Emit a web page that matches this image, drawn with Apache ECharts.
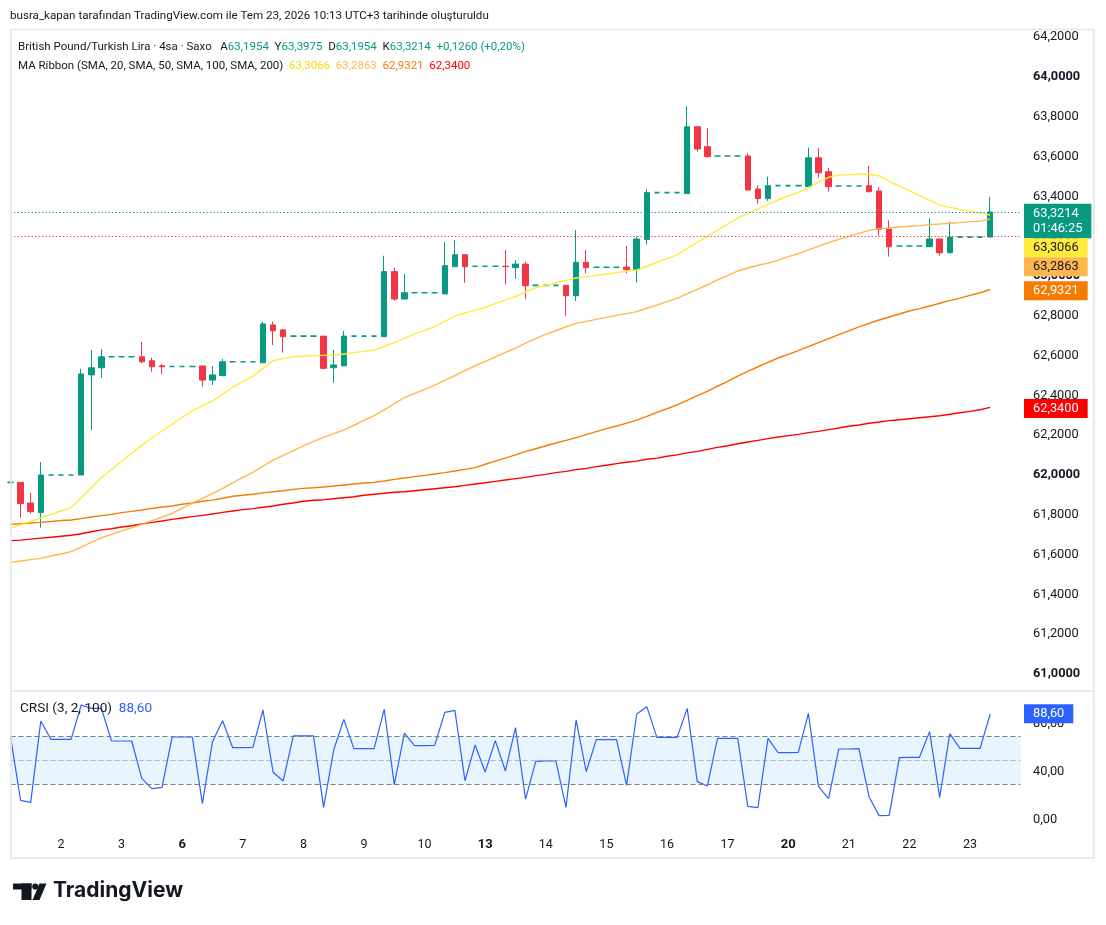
<!DOCTYPE html>
<html><head><meta charset="utf-8">
<script src="https://cdn.jsdelivr.net/npm/echarts@6/dist/echarts.min.js"></script>
<style>html,body{margin:0;padding:0;background:#fff;}#c{width:1106px;height:925px;}</style>
</head><body><div id="c"></div>
<script>
// ---------- data (4h bars, GBP/TRY, Jul 1 04:00 -> Jul 23 08:00, UTC+3) ----------
const tradingDays = ['1','2','3','6','7','8','9','10','13','14','15','16','17','20','21','22','23'];
const mondays = ['6','13','20'];
const barsFirstDay = 5;
const barsPerDay = 6;

const open = [61.963,61.963,61.859,61.811,62.000,62.000,62.000,62.000,62.503,62.539,
62.594,62.594,62.594,62.594,62.574,62.549,62.545,62.545,62.545,62.548,
62.477,62.499,62.569,62.569,62.569,62.564,62.754,62.729,62.698,62.698,
62.698,62.698,62.539,62.549,62.698,62.698,62.698,62.695,63.022,62.884,
62.916,62.916,62.916,62.910,63.047,63.107,63.049,63.049,63.049,63.049,
63.042,63.060,62.953,62.953,62.953,62.953,62.901,63.069,63.044,63.044,
63.044,63.045,63.032,63.184,63.419,63.419,63.419,63.414,63.750,63.650,
63.603,63.603,63.603,63.603,63.437,63.389,63.454,63.454,63.454,63.449,
63.594,63.524,63.452,63.452,63.452,63.454,63.427,63.236,63.151,63.151,
63.151,63.147,63.186,63.117,63.1954,63.1954,63.1954,63.1954];
const close = [61.963,61.856,61.816,62.000,62.000,62.000,62.000,62.508,62.539,62.594,
62.594,62.594,62.594,62.569,62.544,62.544,62.545,62.545,62.545,62.477,
62.503,62.569,62.569,62.569,62.569,62.759,62.725,62.695,62.698,62.698,
62.698,62.536,62.553,62.698,62.698,62.698,62.698,63.022,62.884,62.916,
62.916,62.916,62.916,63.052,63.107,63.047,63.049,63.049,63.049,63.047,
63.060,62.951,62.953,62.953,62.953,62.901,63.069,63.042,63.044,63.044,
63.044,63.032,63.186,63.419,63.419,63.419,63.419,63.750,63.638,63.600,
63.603,63.603,63.603,63.432,63.389,63.454,63.454,63.454,63.454,63.594,
63.519,63.449,63.452,63.452,63.452,63.424,63.235,63.147,63.151,63.151,
63.151,63.186,63.117,63.1954,63.1954,63.1954,63.1954,63.3214];
const low = [61.963,61.785,61.806,61.735,62.000,62.000,62.000,62.000,62.226,62.489,
62.594,62.594,62.594,62.561,62.519,62.506,62.545,62.545,62.545,62.444,
62.452,62.499,62.569,62.569,62.569,62.564,62.653,62.615,62.698,62.698,
62.698,62.531,62.464,62.549,62.698,62.698,62.698,62.695,62.876,62.884,
62.916,62.916,62.916,62.910,63.047,62.966,63.049,63.049,63.049,62.958,
62.985,62.884,62.953,62.953,62.953,62.800,62.874,63.014,63.044,63.044,
63.044,63.014,62.968,63.159,63.419,63.419,63.419,63.414,63.625,63.594,
63.603,63.603,63.603,63.432,63.362,63.377,63.454,63.454,63.454,63.449,
63.494,63.424,63.452,63.452,63.452,63.419,63.203,63.097,63.151,63.151,
63.151,63.147,63.102,63.117,63.1954,63.1954,63.1954,63.1954];
const high = [61.963,61.963,61.910,62.065,62.000,62.000,62.000,62.533,62.628,62.633,
62.594,62.594,62.594,62.668,62.589,62.559,62.545,62.545,62.545,62.548,
62.548,62.583,62.569,62.569,62.569,62.770,62.770,62.734,62.698,62.698,
62.698,62.698,62.628,62.724,62.698,62.698,62.698,63.102,63.042,63.010,
62.916,62.916,62.916,63.171,63.181,63.107,63.049,63.049,63.049,63.131,
63.080,63.072,62.953,62.953,62.953,62.953,63.231,63.131,63.044,63.044,
63.044,63.151,63.198,63.437,63.419,63.419,63.419,63.854,63.750,63.742,
63.603,63.603,63.603,63.617,63.457,63.499,63.454,63.454,63.454,63.645,
63.642,63.544,63.452,63.452,63.452,63.554,63.447,63.280,63.151,63.151,
63.151,63.290,63.186,63.273,63.1954,63.1954,63.1954,63.3975];

const sma20 = [61.732,61.749,61.767,61.784,61.802,61.819,61.836,61.886,61.936,61.987,
62.028,62.069,62.109,62.149,62.186,62.221,62.256,62.290,62.322,62.348,
62.372,62.405,62.442,62.471,62.497,62.536,62.575,62.585,62.595,62.598,
62.600,62.601,62.601,62.608,62.615,62.621,62.628,62.647,62.665,62.687,
62.709,62.727,62.745,62.772,62.799,62.814,62.827,62.843,62.861,62.879,
62.896,62.920,62.940,62.953,62.966,62.978,62.990,62.997,63.003,63.010,
63.017,63.023,63.030,63.049,63.069,63.087,63.106,63.139,63.169,63.199,
63.229,63.261,63.291,63.315,63.337,63.360,63.382,63.402,63.420,63.444,
63.472,63.496,63.508,63.509,63.511,63.511,63.504,63.476,63.452,63.429,
63.404,63.380,63.357,63.345,63.335,63.325,63.317,63.3066];
const sma50 = [61.561,61.568,61.575,61.581,61.593,61.603,61.615,61.638,61.662,61.685,
61.702,61.719,61.735,61.752,61.771,61.789,61.807,61.834,61.859,61.883,
61.906,61.933,61.961,61.988,62.013,62.044,62.075,62.099,62.122,62.146,
62.169,62.189,62.208,62.226,62.250,62.275,62.298,62.327,62.358,62.389,
62.410,62.430,62.452,62.476,62.499,62.524,62.549,62.571,62.593,62.616,
62.638,62.663,62.685,62.707,62.725,62.745,62.762,62.772,62.782,62.792,
62.802,62.811,62.821,62.838,62.854,62.871,62.888,62.911,62.933,62.956,
62.980,63.002,63.025,63.040,63.054,63.065,63.080,63.097,63.112,63.131,
63.149,63.168,63.184,63.199,63.214,63.229,63.238,63.241,63.246,63.250,
63.253,63.258,63.261,63.265,63.268,63.273,63.276,63.2863];
const sma100 = [61.752,61.755,61.759,61.762,61.766,61.771,61.774,61.781,61.789,61.796,
61.802,61.811,61.817,61.824,61.832,61.839,61.844,61.853,61.859,61.868,
61.874,61.883,61.893,61.898,61.903,61.910,61.916,61.921,61.928,61.933,
61.936,61.940,61.945,61.950,61.955,61.960,61.963,61.970,61.978,61.985,
61.992,61.998,62.005,62.012,62.020,62.028,62.037,62.054,62.070,62.085,
62.101,62.119,62.132,62.147,62.161,62.174,62.188,62.203,62.218,62.233,
62.246,62.261,62.276,62.295,62.315,62.333,62.352,62.375,62.399,62.420,
62.446,62.471,62.497,62.521,62.544,62.566,62.588,62.606,62.625,62.645,
62.665,62.685,62.705,62.724,62.744,62.762,62.779,62.794,62.809,62.824,
62.836,62.849,62.863,62.876,62.889,62.903,62.916,62.9321];
const sma200 = [61.670,61.673,61.678,61.683,61.687,61.692,61.697,61.705,61.715,61.724,
61.730,61.739,61.745,61.754,61.762,61.769,61.777,61.784,61.791,61.797,
61.804,61.812,61.819,61.826,61.831,61.838,61.844,61.853,61.859,61.868,
61.873,61.876,61.881,61.886,61.891,61.898,61.903,61.908,61.913,61.916,
61.921,61.926,61.931,61.936,61.941,61.948,61.955,61.961,61.968,61.975,
61.982,61.988,61.997,62.003,62.012,62.018,62.027,62.033,62.042,62.049,
62.057,62.064,62.070,62.079,62.085,62.094,62.101,62.111,62.119,62.129,
62.139,62.147,62.157,62.166,62.174,62.183,62.191,62.198,62.204,62.213,
62.219,62.228,62.236,62.245,62.251,62.260,62.266,62.273,62.278,62.283,
62.288,62.293,62.298,62.305,62.313,62.320,62.328,62.340];

const crsi = [69.7,16.6,15.0,82.7,67.5,67.5,67.5,96.1,93.3,93.3,
66.1,66.1,66.1,35.0,26.4,27.5,69.4,69.4,69.4,13.9,
65.5,83.0,60.5,60.5,60.8,91.9,40.0,32.8,70.3,70.3,
70.3,10.8,58.6,84.1,59.7,59.7,59.7,92.5,29.7,72.7,
62.2,62.2,62.5,90.0,91.6,32.8,62.8,40.3,66.4,41.1,
77.2,17.7,49.1,49.4,49.4,10.8,83.6,40.5,67.2,67.2,
67.2,29.1,88.6,94.7,69.1,69.1,69.1,93.3,32.2,28.6,
68.3,68.3,68.3,11.6,10.5,68.3,56.4,56.4,56.6,89.1,
28.0,18.0,59.4,59.4,59.7,19.7,3.9,4.1,52.2,52.5,
52.5,73.9,19.1,72.2,60.0,60.0,60.0,88.60];

const priceTicks = [61,61.2,61.4,61.6,61.8,62,62.2,62.4,62.6,62.8,63,63.2,63.4,63.6,63.8,64,64.2];
const crsiTicks = [0,40,80];
const crsiBand = [30,50,70];
const countdown = '01:46:25';
const headerText = 'busra_kapan tarafından TradingView.com ile Tem 23, 2026 10:13 UTC+3 tarihinde oluşturuldu';
const symbolText = 'British Pound/Turkish Lira · 4sa · Saxo';
const ribbonText = 'MA Ribbon (SMA, 20, SMA, 50, SMA, 100, SMA, 200)';
const crsiTitle = 'CRSI (3, 2, 100)';

// ---------- styling ----------
const GREEN = '#089981', RED = '#F23645', TXT = '#131722';
const C20 = '#FFEB3B', C50 = '#FFB74D', C100 = '#F57C00', C200 = '#FF0000', CBLUE = '#2962FF';
const FONT = 'Roboto, "Noto Sans", sans-serif';
const AXF = 12.8;
const LEGF = '11.5px ' + FONT;
const N = open.length;
const fmt = (v, d) => v.toFixed(d).replace('.', ',');

const dayStart = tradingDays.map((d, k) => k === 0 ? -1 : barsFirstDay + (k - 1) * barsPerDay);
const labelIdx = dayStart.filter(v => v >= 0);
const labelOf = {};
tradingDays.forEach((d, k) => { labelOf[dayStart[k]] = d; });

const candleData = open.map((o, i) => {
  const flat = o === close[i] && high[i] === low[i];
  const item = { value: [i, o, close[i], low[i], high[i]] };
  if (flat) item.itemStyle = { color: GREEN, color0: GREEN, borderColor: GREEN, borderColor0: GREEN, borderColorDoji: GREEN, borderWidth: 1.6 };
  return item;
});
const xy = arr => arr.map((v, i) => [i, v]);
const maSeries = (arr, color) => ({
  type: 'line', xAxisIndex: 0, yAxisIndex: 0, data: xy(arr), symbol: 'none', showSymbol: false,
  lineStyle: { color, width: 1.4 }, clip: true, silent: true, z: 4, animation: false
});

const chart = echarts.init(document.getElementById('c'), null, { renderer: 'canvas' });
const option = {
  backgroundColor: '#ffffff',
  animation: false,
  grid: [
    { left: 10.5, top: 30, width: 1010, height: 660 },
    { left: 10.5, top: 692, width: 1010, height: 138 }
  ],
  xAxis: [
    { type: 'value', gridIndex: 0, min: 0, max: 100, show: false },
    { type: 'value', gridIndex: 1, min: 0, max: 100,
      axisLine: { show: false }, axisTick: { show: false }, splitLine: { show: false },
      axisLabel: { customValues: labelIdx, margin: 8, color: TXT, fontSize: 12.5, fontFamily: FONT,
        formatter: v => { const t = labelOf[v]; return mondays.includes(t) ? '{b|' + t + '}' : t; },
        rich: { b: { fontWeight: 'bold', fontSize: 13, fontFamily: FONT, color: TXT } } } }
  ],
  yAxis: [
    { type: 'value', gridIndex: 0, position: 'right', min: 60.9196, max: 64.2362, scale: true,
      axisLine: { show: false }, axisTick: { show: false }, splitLine: { show: false },
      axisLabel: { customValues: priceTicks, margin: 12.5, color: TXT, fontSize: AXF, fontFamily: FONT,
        formatter: v => Math.abs(v - Math.round(v)) < 1e-9 ? '{b|' + fmt(v, 4) + '}' : fmt(v, 4),
        rich: { b: { fontWeight: 'bold', fontSize: AXF, fontFamily: FONT, color: TXT } } } },
    { type: 'value', gridIndex: 1, position: 'right', min: -8.08, max: 106.92,
      axisLine: { show: false }, axisTick: { show: false }, splitLine: { show: false },
      axisLabel: { customValues: crsiTicks, margin: 12.5, color: TXT, fontSize: AXF, fontFamily: FONT,
        formatter: v => fmt(v, 2) } }
  ],
  series: [
    { type: 'candlestick', xAxisIndex: 0, yAxisIndex: 0, data: candleData,
      encode: { x: 0, y: [1, 2, 3, 4] }, barWidth: 6, clip: true, silent: true, z: 3,
      itemStyle: { color: GREEN, color0: RED, borderColor: GREEN, borderColor0: RED, borderColorDoji: GREEN, borderWidth: 1 },
      markLine: { silent: true, symbol: 'none', label: { show: false }, animation: false,
        data: [
          { yAxis: close[N - 1], lineStyle: { color: GREEN, type: [1.3, 2.2], width: 1.2 } },
          { yAxis: close[N - 2], lineStyle: { color: RED, type: [1.3, 2.2], width: 1.2 } }
        ] } },
    maSeries(sma200, C200),
    maSeries(sma100, C100),
    maSeries(sma50, C50),
    maSeries(sma20, C20),
    { type: 'line', xAxisIndex: 1, yAxisIndex: 1, data: xy(crsi), symbol: 'none', showSymbol: false,
      lineStyle: { color: CBLUE, width: 1.2 }, clip: true, silent: true, z: 4,
      markArea: { silent: true, itemStyle: { color: 'rgba(33,150,243,0.1)' }, data: [[{ yAxis: crsiBand[0] }, { yAxis: crsiBand[2] }]] },
      markLine: { silent: true, symbol: 'none', label: { show: false },
        data: [
          { yAxis: crsiBand[2], lineStyle: { color: '#787B86', type: [5, 3], width: 1 } },
          { yAxis: crsiBand[1], lineStyle: { color: 'rgba(120,123,134,0.5)', type: [5, 3], width: 1 } },
          { yAxis: crsiBand[0], lineStyle: { color: '#787B86', type: [5, 3], width: 1 } }
        ] } }
  ]
};
chart.setOption(option);

// ---------- overlay graphics ----------
const g = [];
// frame + pane separator
g.push({ type: 'rect', shape: { x: 11, y: 29.5, width: 1083, height: 828.5 }, style: { fill: 'none', stroke: '#e3e5ea', lineWidth: 1.5 }, silent: true, z: 10 });
g.push({ type: 'line', shape: { x1: 11, y1: 691, x2: 1094, y2: 691 }, style: { stroke: '#e3e5ea', lineWidth: 1.5 }, silent: true, z: 10 });

// header
g.push({ type: 'text', x: 10, y: 16.5, style: { text: headerText, fill: TXT, font: '11.6px ' + FONT, textVerticalAlign: 'middle' }, z: 10 });

// legend
const last = N - 1;
const chg = close[last] - close[last - 1];
const pct = chg / close[last - 1] * 100;
const sgn = v => (v >= 0 ? '+' : '-');
const richBase = (f, font) => ({ fill: f, font: font || LEGF });
g.push({ type: 'text', x: 18, y: 47, z: 10, style: {
  text: symbolText + '   A{g|' + fmt(open[last], 4) + '}  Y{g|' + fmt(high[last], 4) + '}  D{g|' + fmt(low[last], 4) + '}  K{g|' + fmt(close[last], 4) + '}  {g|' + sgn(chg) + fmt(Math.abs(chg), 4) + ' (' + sgn(pct) + fmt(Math.abs(pct), 2) + '%)}',
  fill: TXT, font: LEGF, textVerticalAlign: 'middle',
  rich: { g: richBase(GREEN) } } });
g.push({ type: 'text', x: 18, y: 66, z: 10, style: {
  text: ribbonText + '  {a|' + fmt(sma20[last], 4) + '}  {b|' + fmt(sma50[last], 4) + '}  {c|' + fmt(sma100[last], 4) + '}  {d|' + fmt(sma200[last], 4) + '}',
  fill: TXT, font: LEGF, textVerticalAlign: 'middle',
  rich: { a: richBase('#F5D90A'), b: richBase(C50), c: richBase(C100), d: richBase(C200) } } });

// price scale tags (stacked so they never overlap)
const LH = 15.5, PT = 2, PB = 1.5;
const tags = [
  { v: close[last], bg: GREEN, fg: '#fff', text: fmt(close[last], 4) + '\n' + countdown, axis: 0 },
  { v: sma20[last], bg: C20, fg: TXT, text: fmt(sma20[last], 4), axis: 0 },
  { v: sma50[last], bg: C50, fg: TXT, text: fmt(sma50[last], 4), axis: 0 },
  { v: sma100[last], bg: C100, fg: '#fff', text: fmt(sma100[last], 4), axis: 0 },
  { v: sma200[last], bg: C200, fg: '#fff', text: fmt(sma200[last], 4), axis: 0 }
].map(t => Object.assign(t, { py: chart.convertToPixel({ yAxisIndex: t.axis }, t.v) }));
tags.sort((a, b) => a.py - b.py);
let prevBottom = -1e9;
const tagX = chart.convertToPixel({ xAxisIndex: 0 }, 100) + 3.5;
tags.forEach(t => {
  const lines = t.text.split('\n').length;
  const h = lines * LH + PT + PB;
  const top = Math.max(t.py - (PT + LH / 2) + 1.5, prevBottom);
  prevBottom = top + h;
  g.push({ type: 'text', x: tagX, y: top, z: 20, style: {
    text: t.text, fill: t.fg, font: AXF + 'px ' + FONT, lineHeight: LH, textVerticalAlign: 'top',
    backgroundColor: t.bg, padding: [PT, 9, PB, 9] } });
});
// CRSI tag
const cpy = chart.convertToPixel({ yAxisIndex: 1 }, crsi[last]);
g.push({ type: 'text', x: tagX, y: cpy - (PT + LH / 2), z: 20, style: {
  text: fmt(crsi[last], 2), fill: '#fff', font: AXF + 'px ' + FONT, lineHeight: LH, textVerticalAlign: 'top',
  backgroundColor: CBLUE, padding: [PT, 9, PB, 9] } });
// CRSI title
const CTF = '13.6px ' + FONT;
g.push({ type: 'text', x: 20, y: 708.5, z: 10, style: {
  text: crsiTitle + '  {v|' + fmt(crsi[last], 2) + '}', fill: TXT, font: CTF, textVerticalAlign: 'middle',
  rich: { v: richBase(CBLUE, CTF) } } });

// TradingView logo
const LOGO = '#131722';
g.push({ type: 'rect', shape: { x: 13, y: 883.5, width: 18.5, height: 6 }, style: { fill: LOGO }, z: 10 });
g.push({ type: 'rect', shape: { x: 21.5, y: 883.5, width: 10, height: 16.5 }, style: { fill: LOGO }, z: 10 });
g.push({ type: 'circle', shape: { cx: 35.3, cy: 886.6, r: 3.1 }, style: { fill: LOGO }, z: 10 });
g.push({ type: 'polygon', shape: { points: [[39.5, 883.5], [46.5, 883.5], [39.5, 900], [32.5, 900]] }, style: { fill: LOGO }, z: 10 });
g.push({ type: 'text', x: 53, y: 891, z: 10, style: { text: 'TradingView', fill: LOGO, font: 'bold 21px Inter, Roboto, sans-serif', textVerticalAlign: 'middle' } });

chart.setOption({ graphic: g });
</script></body></html>
